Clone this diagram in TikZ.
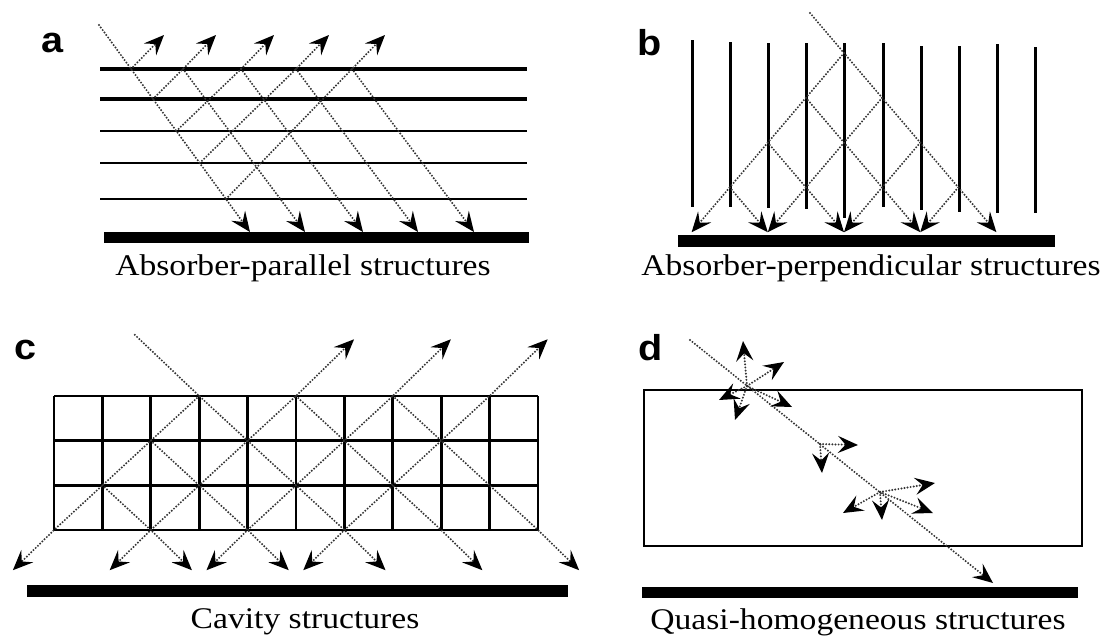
\documentclass[tikz,border=0pt]{standalone}
\usepackage{fontspec}
\usepackage{tikz}
\usetikzlibrary{arrows.meta, calc}
\newfontfamily\capfont[FakeStretch=1.12]{Liberation Serif}
\newfontfamily\tagfont[FakeStretch=1.1]{Liberation Sans}

\begin{document}
\begin{tikzpicture}[
  x=1pt, y=-1pt,
  tip/.tip={Stealth[length=20pt, width=17pt, inset=7.5pt, black]},
  tag/.style={font=\tagfont\bfseries\fontsize{36}{38}\selectfont, inner sep=0pt},
  caption/.style={font=\capfont\fontsize{30}{34}\selectfont, inner sep=0pt},
  cell/.style={line width=2.7pt},
  absorber/.style={fill=black},
  ray/.style={-tip, draw=black!80, line width=2.2pt, line cap=round, dash pattern=on 0pt off 3.1pt},
  tworay/.style={ray, tip-tip}
]
\path[use as bounding box, fill=white] (0,0) rectangle (1110,640);

% (a) ABSORBER-PARALLEL
\node[tag] (taga) at (53,43) {a};
\foreach \y/\lw in {69/3.2, 99/3.2, 131/2.6, 163/2.6, 199/2.6}
  \draw[line width=\lw] (100,\y) -- (527,\y);
\fill[absorber] (104,232) rectangle (529,243);
\node[caption] (capa) at (303,268) {Absorber-parallel structures};

\coordinate (ina) at (99,25);
\draw[ray] (ina) -- (250,232);
\foreach \py/\tx [count=\k] in {69/131, 99/183, 131/241, 163/296, 199/352} {
  \coordinate (pa\k) at ({99+(\py-25)*0.73},\py);
  \coordinate (ta\k) at (\tx,69);
  \draw[ray] (pa\k) -- (ta\k) -- ++(33,-34);
}
\foreach \k in {2,...,5}
  \draw[ray] (ta\k) -- ++(122,163);

% (b) ABSORBER-PERPENDICULAR
\node[tag] (tagb) at (650,43) {b};
\foreach \x/\t/\b in {692/40/207, 730/42/207, 768/43/208, 806/43/209, 844/43/218,
                      883/43/207, 921/46/210, 959/46/212, 997/44/213, 1035/47/213}
  \draw[line width=3] (\x,\t) -- (\x,\b);
\fill[absorber] (678,235) rectangle (1055,247);
\node[caption] (capb) at (871,268) {Absorber-perpendicular structures};

\coordinate (inb) at (810,13);
\coordinate (topb) at (844,53);
\draw[ray, -] (inb) -- (topb);
\foreach \k in {0,...,3} {
  \draw[ray] ($(topb)+({-38.1*\k},{44.8*\k})$) -- ++({38.1*(4-\k)},{44.8*(4-\k)});
  \draw[ray] ($(topb)+({38.1*\k},{44.8*\k})$) -- ++({-38.1*(4-\k)},{44.8*(4-\k)});
}

% (c) CAVITY
\node[tag] (tagc) at (26,350) {c};
\fill[absorber] (27,585) rectangle (568,597);
\node[caption] (capc) at (305,622) {Cavity structures};

\begin{scope}[shift={(54,396)}, x=48.4pt, y=-44.67pt]
  \foreach \c in {0,...,10} \draw[cell] (\c,0) -- (\c,3);
  \foreach \r in {0,...,3} \draw[cell] (0,\r) -- (10,\r);
  % rays along the cell diagonals
  \draw[ray] (1.67,-1.37) -- (3,0) -- (6,3) -- ++(0.85,0.9);
  \draw[ray] (3,0) -- (0,3) -- ++(-0.85,0.9);
  \draw[tworay] (1.15,3.9) -- (2,3) -- (5,0) -- (6.2,-1.27);
  \draw[tworay] (3.15,3.9) -- (4,3) -- (7,0) -- (8.2,-1.27);
  \draw[tworay] (5.15,3.9) -- (6,3) -- (9,0) -- (10.2,-1.27);
  \draw[ray] (1,2) -- (2,3) -- ++(0.85,0.9);
  \draw[ray] (2,1) -- (4,3) -- ++(0.85,0.9);
  \draw[ray] (5,0) -- (8,3) -- ++(0.85,0.9);
  \draw[ray] (7,0) -- (10,3) -- ++(0.85,0.9);
\end{scope}

% (d) QUASI-HOMOGENEOUS
\node[tag] (tagd) at (651,348) {d};
\draw[line width=2.2] (644,390) rectangle (1082,546);
\fill[absorber] (642,587) rectangle (1078,598);
\node[caption] (capd) at (858,622) {Quasi-homogeneous structures};

\coordinate (ind) at (690,340);
\draw[ray] (ind) -- (993,583);
\coordinate (s1) at (747,386);
\coordinate (s2) at (820,444);
\coordinate (s3) at (880,492);
\foreach \tx/\ty in {743/341, 784/362, 719/400, 735/420, 792/407}
  \draw[ray] (s1) -- (\tx,\ty);
\foreach \tx/\ty in {858/445, 822/473}
  \draw[ray] (s2) -- (\tx,\ty);
\foreach \tx/\ty in {935/483, 933/513, 843/513, 882/520}
  \draw[ray] (s3) -- (\tx,\ty);

\end{tikzpicture}
\end{document}
